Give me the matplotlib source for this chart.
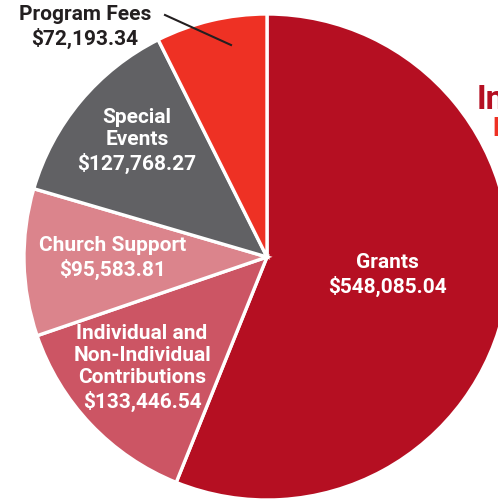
import matplotlib.pyplot as plt

# Income sources
categories = ['Grants', 'Individual and\nNon-Individual\nContributions', 'Church Support',
              'Special\nEvents', 'Program Fees']
amounts = [548085.04, 133446.54, 95583.81, 127768.27, 72193.34]
colors = ['#B50F22', '#CC5564', '#DB848C', '#616164', '#EE3124']

# label anchor points (pixels from top-left)
label_pos = [(387, 275), (142, 368), (113, 258), (137, 141), (85, 27)]
label_color = ['white', 'white', 'white', 'white', '#231F20']

W, H = 498, 501
fig = plt.figure(figsize=(W / 100, H / 100), dpi=100)
ax = fig.add_axes([0, 0, 1, 1])

wedges, _ = ax.pie(amounts, colors=colors, startangle=90, counterclock=False,
                   center=(267, H - 257), radius=243,
                   wedgeprops=dict(edgecolor='white', linewidth=2.4))
ax.set_xlim(0, W)
ax.set_ylim(0, H)
ax.set_aspect('equal')
ax.axis('off')

fam = ['Roboto', 'DejaVu Sans']

for name, val, (px, py), c in zip(categories, amounts, label_pos, label_color):
    ax.text(px, H - py, f"{name}\n${val:,.2f}", ha='center', va='center',
            color=c, fontsize=15, fontweight='bold', linespacing=1.22, family=fam)

# leader line for Program Fees
ax.plot([165, 231], [H - 15, H - 45], color='#231F20', lw=1.5)

# title, cut off at the right edge as in the source
ax.text(477, H - 100, 'Income', color='#B50F22', fontsize=24, fontweight='bold',
        va='center', ha='left', family=fam)
ax.text(493, H - 129, 'Fiscal Year', color='#EE3124', fontsize=18, fontweight='bold',
        va='center', ha='left', family=fam)

fig.savefig('out.png', dpi=100)
